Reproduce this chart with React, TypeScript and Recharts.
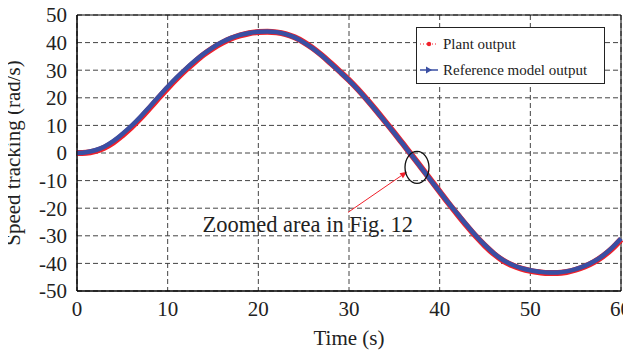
import React from 'react';
import {
  LineChart,
  Line,
  XAxis,
  YAxis,
  CartesianGrid,
  ReferenceArea,
  ReferenceDot,
  ReferenceLine,
} from 'recharts';

const time = [
  0, 1, 2, 3, 4, 5, 6, 7, 8, 9, 10, 11, 12, 13, 14, 15, 16, 17, 18, 19, 20,
  21, 22, 23, 24, 25, 26, 27, 28, 29, 30, 31, 32, 33, 34, 35, 36, 37, 38, 39, 40,
  41, 42, 43, 44, 45, 46, 47, 48, 49, 50, 51, 52, 53, 54, 55, 56, 57, 58, 59, 60,
];

const referenceOutput = [
  0, 0.3, 1.0, 2.3, 4.3, 6.9, 9.8, 13.1, 16.7, 20.4, 24.0, 27.4, 30.5, 33.4, 36.0, 38.3,
  40.2, 41.7, 42.8, 43.5, 43.9, 44.0, 43.8, 43.1, 41.9, 40.1, 37.9, 35.3, 32.4, 29.4,
  26.3, 22.9, 19.2, 15.3, 11.3, 7.2, 3.0, -1.2, -5.5, -9.8, -14.0, -18.2, -22.2, -26.2,
  -30.0, -33.4, -36.4, -38.8, -40.5, -41.7, -42.5, -43.0, -43.3, -43.3, -42.9, -42.1,
  -40.9, -39.3, -37.2, -34.4, -31.0,
];

const plantOutput = [
  0, 0.1, 0.7, 1.9, 3.8, 6.4, 9.3, 12.6, 16.2, 19.9, 23.5, 26.9, 30.1, 33.0, 35.7, 38.0,
  39.9, 41.5, 42.6, 43.4, 43.8, 43.9, 43.7, 43.1, 41.9, 40.2, 38.0, 35.4, 32.5, 29.5,
  26.4, 23.0, 19.3, 15.4, 11.4, 7.3, 3.1, -1.1, -5.4, -9.7, -14.0, -18.3, -22.4, -26.4,
  -30.2, -33.6, -36.6, -39.0, -40.7, -41.9, -42.7, -43.2, -43.5, -43.5, -43.1, -42.3,
  -41.1, -39.5, -37.4, -34.7, -31.3,
];

const xTicks = [0, 10, 20, 30, 40, 50, 60];
const yTicks = [-50, -40, -30, -20, -10, 0, 10, 20, 30, 40, 50];

const data = time.map((t, i) => ({
  t,
  reference: referenceOutput[i],
  plant: plantOutput[i],
}));

const FONT = '"Liberation Serif", "Times New Roman", serif';
const RED = '#f0202a';
const BLUE = '#3a4fa3';

// legend box sits over the upper right of the plot
function LegendBox() {
  return (
    <svg
      width={189}
      height={57}
      style={{ position: 'absolute', left: 408, top: 19, background: '#fff' }}
    >
      <rect x={0.5} y={0.5} width={188} height={56} fill="#fff" stroke="#222" />
      <line x1={4} y1={17} x2={22} y2={17} stroke={RED} strokeWidth={1} strokeDasharray="1 2" />
      <circle cx={13} cy={17} r={2.2} fill={RED} />
      <text x={27} y={22} fontFamily={FONT} fontSize={15} fill="#222">Plant output</text>
      <line x1={4} y1={43} x2={22} y2={43} stroke={BLUE} strokeWidth={1.5} />
      <polygon points="10,39.5 16,43 10,46.5" fill={BLUE} />
      <text x={27} y={48} fontFamily={FONT} fontSize={15} fill="#222">Reference model output</text>
    </svg>
  );
}

export default function App() {
  return (
    <div style={{ position: 'relative', width: 623, height: 343 }}>
      <LineChart
        width={623}
        height={343}
        data={data}
        margin={{ top: 7, right: 10, bottom: 0, left: 0 }}
      >
        <CartesianGrid stroke="#444" strokeDasharray="5 3" />
        <XAxis
          dataKey="t"
          type="number"
          domain={[0, 60]}
          ticks={xTicks}
          height={60}
          tickSize={0}
          tickMargin={10}
          axisLine={{ stroke: '#000' }}
          tick={{ fill: '#222', fontSize: 21, fontFamily: FONT }}
          label={{
            value: 'Time (s)',
            position: 'insideBottom',
            offset: 6,
            fill: '#222',
            fontSize: 21,
            fontFamily: FONT,
          }}
        />
        <YAxis
          type="number"
          domain={[-50, 50]}
          ticks={yTicks}
          width={69}
          tickSize={0}
          tickMargin={10}
          interval={0}
          axisLine={{ stroke: '#000' }}
          tick={{ fill: '#222', fontSize: 21, fontFamily: FONT }}
          label={{
            value: 'Speed tracking (rad/s)',
            angle: -90,
            position: 'insideLeft',
            offset: 5,
            style: { textAnchor: 'middle' },
            fill: '#222',
            fontSize: 21,
            fontFamily: FONT,
          }}
        />
        <ReferenceArea x1={0} x2={60} y1={-50} y2={50} fill="none" stroke="#000" strokeWidth={1} />
        <Line
          dataKey="plant"
          type="monotone"
          stroke={RED}
          strokeWidth={6}
          dot={false}
          isAnimationActive={false}
        />
        <Line
          dataKey="reference"
          type="monotone"
          stroke={BLUE}
          strokeWidth={4.5}
          dot={false}
          isAnimationActive={false}
        />
        {/* circled region on the falling edge */}
        <ReferenceDot
          x={37.5}
          y={-5.2}
          shape={(p: any) => (
            <ellipse cx={p.cx} cy={p.cy} rx={12} ry={16} fill="none" stroke="#111" strokeWidth={1.3} />
          )}
        />
        <ReferenceLine
          segment={[
            { x: 29.9, y: -21.5 },
            { x: 36.4, y: -6.8 },
          ]}
          shape={(p: any) => {
            const { x1, y1, x2, y2 } = p;
            const a = Math.atan2(y2 - y1, x2 - x1);
            const len = 7;
            const w = 3;
            const bx = x2 - len * Math.cos(a);
            const by = y2 - len * Math.sin(a);
            const pts = [
              `${x2},${y2}`,
              `${bx - w * Math.sin(a)},${by + w * Math.cos(a)}`,
              `${bx + w * Math.sin(a)},${by - w * Math.cos(a)}`,
            ].join(' ');
            return (
              <g>
                <line x1={x1} y1={y1} x2={bx} y2={by} stroke={RED} strokeWidth={1} />
                <polygon points={pts} fill={RED} />
              </g>
            );
          }}
        />
        <ReferenceDot
          x={25.45}
          y={-28.8}
          shape={(p: any) => (
            <text x={p.cx} y={p.cy} textAnchor="middle" fontFamily={FONT} fontSize={22.5} fill="#222">
              Zoomed area in Fig. 12
            </text>
          )}
        />
      </LineChart>
      <LegendBox />
    </div>
  );
}
